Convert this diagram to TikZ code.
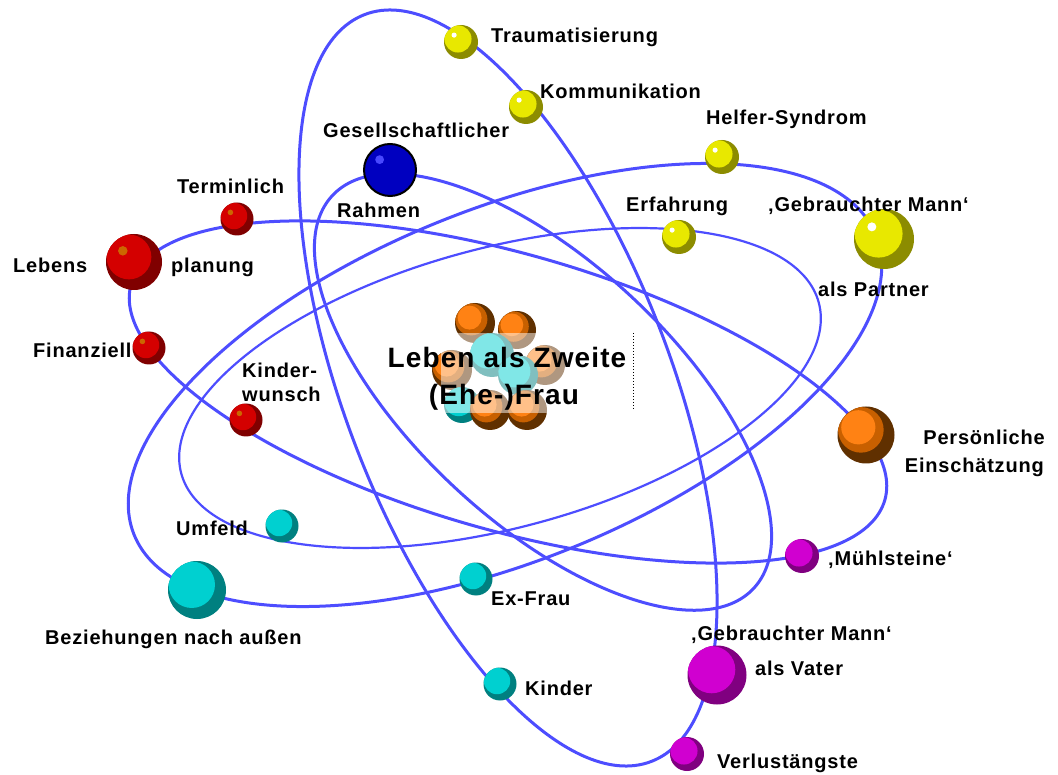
\documentclass[tikz,border=0pt]{standalone}
\usepackage{fontspec}
\setmainfont{Liberation Sans}[LetterSpace=4]
\usetikzlibrary{calc}

\definecolor{orbitblue}{RGB}{77,77,255}
\definecolor{reddark}{RGB}{128,0,0}
\definecolor{redmain}{RGB}{212,0,0}
\definecolor{redspot}{RGB}{204,102,0}
\definecolor{yeldark}{RGB}{140,140,0}
\definecolor{yelmain}{RGB}{232,232,0}
\definecolor{bluemain}{RGB}{0,0,192}
\definecolor{bluespot}{RGB}{72,72,255}
\definecolor{cyandark}{RGB}{0,128,128}
\definecolor{cyanmain}{RGB}{0,208,208}
\definecolor{magdark}{RGB}{128,0,128}
\definecolor{magmain}{RGB}{208,0,208}
\definecolor{ordark}{RGB}{96,48,0}
\definecolor{ormain}{RGB}{200,96,0}
\definecolor{orlight}{RGB}{255,130,20}

\tikzset{
  orbit/.style={draw=orbitblue, line width=3pt},
  ball/.style n args={4}{circle, inner sep=0pt, fill=#1,
    path picture={
      \fill[#2] let \p1=(path picture bounding box.center), \p2=(path picture bounding box.east),
        \n1={\x2-\x1} in ({\x1-0.18*\n1},{\y1+0.18*\n1}) circle [radius=0.8*\n1];
      \fill[#3] let \p1=(path picture bounding box.center), \p2=(path picture bounding box.east),
        \n1={\x2-\x1} in ({\x1-(0.45-0.3*#4)*\n1},{\y1+(0.45-0.3*#4)*\n1}) circle [radius=#4*\n1];
    }},
  redball/.style={ball={reddark}{redmain}{redspot}{0.17}},
  yelball/.style={ball={yeldark}{yelmain}{white}{0.15}},
  blueball/.style={ball={bluemain}{bluemain}{bluespot}{0.17}, draw=black, line width=2pt},
  cyanball/.style={ball={cyandark}{cyanmain}{cyanmain}{0.1}},
  magball/.style={ball={magdark}{magmain}{magmain}{0.1}},
  orball/.style={ball={ordark}{ormain}{orlight}{0.6}},
  sball/.style={minimum size=34pt},
  bball/.style={minimum size=58pt},
  lbl/.style={font=\bfseries\fontsize{20}{22}\selectfont, inner sep=0pt, anchor=base west},
  titletext/.style={font=\bfseries\fontsize{28}{30}\selectfont, inner sep=0pt, anchor=base}
}

\begin{document}
\begin{tikzpicture}[x=1pt,y=-1pt]
\fill[white] (0,0) rectangle (1058,775);
\useasboundingbox (0,0) rectangle (1058,775);

% orbits
\draw[orbit, rotate around={-69:(508,388)}] (508,388) ellipse [x radius=400, y radius=163];
\draw[orbit, rotate around={22:(505,385)}] (505,385) ellipse [x radius=400, y radius=176];
\draw[orbit, rotate around={-43:(543,392)}] (543,392) ellipse [x radius=288, y radius=130];
\draw[orbit, rotate around={-16:(508,392)}] (508,392) ellipse [x radius=392, y radius=138];
\draw[orbit, line width=2.2pt, rotate around={15:(500,388)}] (500,388) ellipse [x radius=330, y radius=140];

% nucleus
\node[orball, minimum size=40pt] (n1) at (475,323) {};
\node[orball, minimum size=38pt] (n2) at (517,330) {};
\node[orball, minimum size=40pt] (n3) at (452,370) {};
\node[orball, minimum size=40pt] (n4) at (545,365) {};
\node[cyanball, minimum size=44pt] (n5) at (492,355) {};
\node[cyanball, minimum size=40pt] (n6) at (518,375) {};
\node[cyanball, minimum size=36pt] (n7) at (462,405) {};
\node[orball, minimum size=40pt] (n8) at (490,410) {};
\node[orball, minimum size=40pt] (n9) at (527,410) {};
\fill[white, opacity=0.5] (441,333) rectangle (566,413);
\node[titletext] (title1) at (507,368) {Leben als Zweite};
\node[titletext] (title2) at (504,405) {(Ehe-)Frau};
\draw[dotted, line width=1pt] (633,333) -- (633,410);

% electrons
\node[yelball, sball] (trauma) at (461,42) {};
\node[yelball, sball] (kommu) at (526,107) {};
\node[blueball, minimum size=52pt] (rahmen) at (390,170) {};
\node[yelball, sball] (helfer) at (722,157) {};
\node[yelball, sball] (erfahr) at (679,237) {};
\node[yelball, minimum size=60pt] (partner) at (884,239) {};
\node[redball, minimum size=33pt] (termin) at (237,219) {};
\node[redball, minimum size=56pt] (lebens) at (134,262) {};
\node[redball, minimum size=33pt] (finanz) at (149,348) {};
\node[redball, minimum size=33pt] (kiwunsch) at (246,420) {};
\node[orball, minimum size=57pt] (persoenl) at (866,435) {};
\node[cyanball, minimum size=33pt] (umfeld) at (282,526) {};
\node[cyanball, bball] (bezieh) at (197,590) {};
\node[cyanball, minimum size=33pt] (exfrau) at (476,579) {};
\node[magball, sball] (muehl) at (802,556) {};
\node[magball, minimum size=59pt] (vater) at (717,675) {};
\node[cyanball, minimum size=33pt] (kinder) at (500,684) {};
\node[magball, sball] (verlust) at (687,754) {};

% labels
\node[lbl] (traumaL) at (491,43) {Traumatisierung};
\node[lbl] (kommuL) at (540,99) {Kommunikation};
\node[lbl] (rahmenL1) at (323,138) {Gesellschaftlicher};
\node[lbl] (rahmenL2) at (337,218) {Rahmen};
\node[lbl] (helferL) at (706,125) {Helfer-Syndrom};
\node[lbl] (erfahrL) at (626,212) {Erfahrung};
\node[lbl] (partnerL1) at (768,212) {‚Gebrauchter Mann‘};
\node[lbl] (partnerL2) at (818,297) {als Partner};
\node[lbl] (terminL) at (177,194) {Terminlich};
\node[lbl] (lebensL1) at (13,273) {Lebens};
\node[lbl] (lebensL2) at (171,273) {planung};
\node[lbl] (finanzL) at (33,358) {Finanziell};
\node[lbl] (kiwunschL1) at (242,378) {Kinder-};
\node[lbl] (kiwunschL2) at (242,402) {wunsch};
\node[lbl, anchor=base east] (persoenlL1) at (1045,445) {Persönliche};
\node[lbl, anchor=base east] (persoenlL2) at (1044,473) {Einschätzung};
\node[lbl] (umfeldL) at (176,535) {Umfeld};
\node[lbl] (beziehL) at (45,644) {Beziehungen nach außen};
\node[lbl] (exfrauL) at (491,605) {Ex-Frau};
\node[lbl] (muehlL) at (828,565) {‚Mühlsteine‘};
\node[lbl] (vaterL1) at (691,640) {‚Gebrauchter Mann‘};
\node[lbl] (vaterL2) at (755,675) {als Vater};
\node[lbl] (kinderL) at (525,695) {Kinder};
\node[lbl] (verlustL) at (717,768) {Verlustängste};
\end{tikzpicture}
\end{document}
